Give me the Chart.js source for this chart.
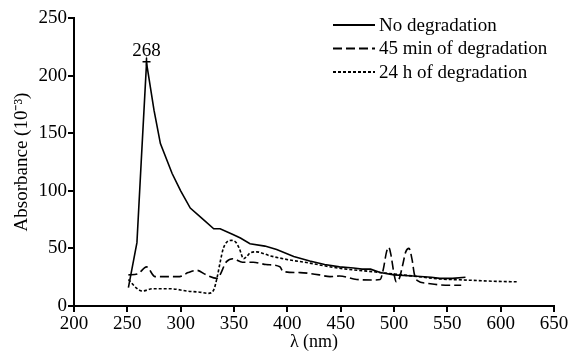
<!DOCTYPE html>
<html>
<head>
<meta charset="utf-8">
<script src="https://cdn.jsdelivr.net/npm/chart.js@4.4.1/dist/chart.umd.min.js"></script>
<style>
  html, body { margin: 0; padding: 0; background: #fff; }
  #wrap { width: 571px; height: 353px; position: relative; }
</style>
</head>
<body>
<div id="wrap"><canvas id="c" width="571" height="353"></canvas></div>
<script>
// ---- data ----
const seriesNames = ["No degradation", "45 min of degradation", "24 h of degradation"];

const noDegWl  = [251, 259, 263, 268, 275, 281, 292, 300, 309, 320, 331, 337, 349, 356, 365, 379, 390, 406, 421, 435, 449, 462, 470, 478, 487, 500, 518, 535, 543, 555, 567];
const noDegAbs = [16, 55, 125, 211, 170, 141, 115, 100, 85, 76, 67, 67, 62, 59, 54, 52, 49, 43, 39, 36, 34, 33, 32, 32, 29, 27, 26, 25, 24, 24, 25];

const min45Wl  = [251, 260, 268, 276, 290, 299, 307, 315, 324, 334, 343, 349, 358, 368, 380, 393, 396, 412, 430, 440, 449, 465, 480, 487, 490, 493, 495, 497, 500, 502, 505, 508, 511, 514, 517, 519, 522, 531, 543, 553, 563];
const min45Abs = [27, 28, 34, 25.5, 25.5, 25.5, 29, 31, 27, 24, 38.5, 41, 38, 38, 36, 34, 30, 29, 27, 25.5, 26, 23, 22.6, 23, 32, 47, 51, 45, 28, 21, 24, 35, 47, 50, 40, 28, 22, 19.7, 18.3, 18, 18];

const h24Wl  = [251, 253, 258, 264, 274, 290, 306, 318, 326, 331, 334, 337, 340, 344, 348, 352, 355, 359, 362, 365, 371, 384, 402, 418, 443, 462, 480, 499, 518, 543, 568, 593, 615];
const h24Abs = [23, 21, 16, 13, 15, 15, 13, 12, 11, 14, 24, 38, 50, 56, 57, 55, 50, 41, 43, 46, 47, 43.5, 40, 37.7, 33.6, 31.3, 29.8, 27.8, 26, 23.5, 22.5, 21.5, 21];

const peakWl = 268;
const peakAbs = 212;
const peakLabel = "268";

const xTicks = [200, 250, 300, 350, 400, 450, 500, 550, 600, 650];
const yTicks = [0, 50, 100, 150, 200, 250];

const xTitle = "λ (nm)";
const yTitle = "Absorbance (10⁻³)";

// ---- chart ----
const FONT = "'Liberation Serif', 'Times New Roman', serif";
const toPts = (xs, ys) => xs.map((x, i) => ({ x: x, y: ys[i] }));

const dashes = [[], [9, 4], [3, 2]];

const datasets = [
  { label: seriesNames[0], data: toPts(noDegWl, noDegAbs), borderColor: '#000', borderWidth: 1.6, borderDash: dashes[0], pointRadius: 0, tension: 0 },
  { label: seriesNames[1], data: toPts(min45Wl, min45Abs), borderColor: '#000', borderWidth: 1.6, borderDash: dashes[1], pointRadius: 0, cubicInterpolationMode: 'monotone' },
  { label: seriesNames[2], data: toPts(h24Wl, h24Abs), borderColor: '#000', borderWidth: 1.6, borderDash: dashes[2], pointRadius: 0, cubicInterpolationMode: 'monotone' },
  { label: 'peak', data: [{ x: peakWl, y: peakAbs }], showLine: false, pointStyle: 'cross', pointRadius: 4, borderColor: '#000', borderWidth: 1.5, backgroundColor: '#000' }
];

const overlay = {
  id: 'overlay',
  afterDatasetsDraw(chart) {
    const ctx = chart.ctx;
    const xs = chart.scales.x, ys = chart.scales.y;
    ctx.save();
    ctx.fillStyle = '#000';
    ctx.font = "19px " + FONT;
    ctx.textAlign = 'center';
    ctx.textBaseline = 'alphabetic';
    ctx.fillText(peakLabel, xs.getPixelForValue(peakWl), ys.getPixelForValue(peakAbs) - 6);

    // legend
    const lx0 = 333, lx1 = 375, tx = 379;
    const rows = [25, 48.5, 72];
    ctx.textAlign = 'left';
    ctx.textBaseline = 'middle';
    ctx.strokeStyle = '#000';
    for (let i = 0; i < 3; i++) {
      ctx.lineWidth = 2;
      ctx.setLineDash(dashes[i]);
      ctx.beginPath();
      ctx.moveTo(lx0, rows[i]);
      ctx.lineTo(lx1, rows[i]);
      ctx.stroke();
      ctx.setLineDash([]);
      ctx.fillText(seriesNames[i], tx, rows[i] + 1);
    }
    ctx.restore();
  }
};

new Chart(document.getElementById('c'), {
  type: 'line',
  data: { datasets: datasets },
  options: {
    responsive: false,
    animation: false,
    devicePixelRatio: 1,
    layout: { padding: { top: 18, right: 17, left: 0, bottom: 0 } },
    plugins: { legend: { display: false }, tooltip: { enabled: false } },
    scales: {
      x: {
        type: 'linear', min: 200, max: 650,
        afterBuildTicks: s => { s.ticks = xTicks.map(v => ({ value: v })); },
        afterFit: s => { s.height = 47; },
        grid: { drawOnChartArea: false, drawTicks: true, tickLength: 6, color: '#000', lineWidth: 2 },
        border: { display: true, color: '#000', width: 2 },
        ticks: { color: '#000', font: { family: FONT, size: 19 }, padding: 1, maxRotation: 0 },
        title: { display: true, text: xTitle, color: '#000', font: { family: FONT, size: 18 }, padding: { top: 0, bottom: 0 } }
      },
      y: {
        type: 'linear', min: 0, max: 250,
        afterBuildTicks: s => { s.ticks = yTicks.map(v => ({ value: v })); },
        afterFit: s => { s.width = 74; },
        grid: { drawOnChartArea: false, drawTicks: true, tickLength: 6, color: '#000', lineWidth: 2 },
        border: { display: true, color: '#000', width: 2 },
        ticks: { color: '#000', font: { family: FONT, size: 19 }, padding: 1 },
        title: { display: true, text: yTitle, color: '#000', font: { family: FONT, size: 19 }, padding: { top: 11, bottom: 0 } }
      }
    }
  },
  plugins: [overlay]
});
</script>
</body>
</html>
